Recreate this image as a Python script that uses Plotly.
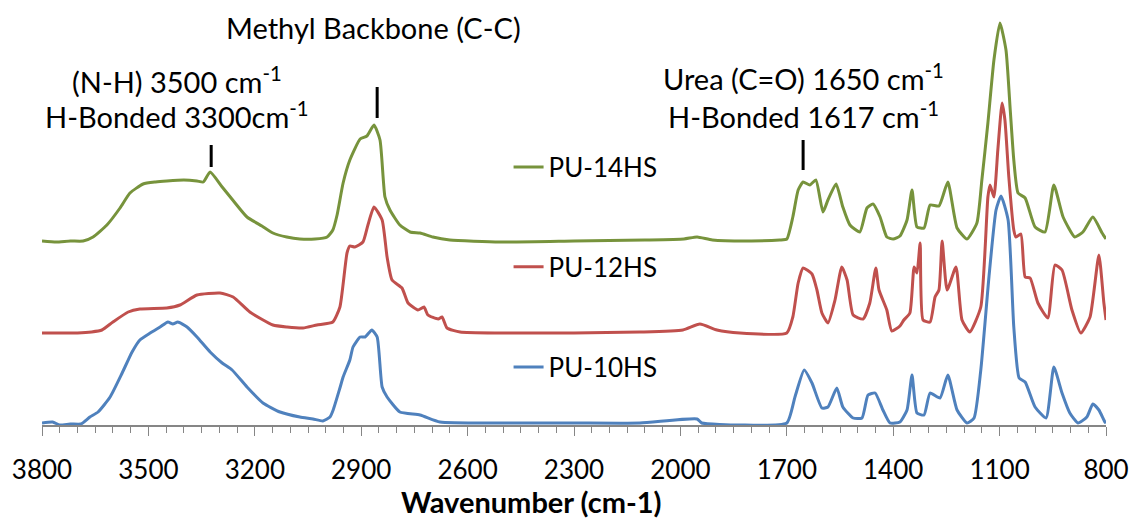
import plotly.graph_objects as go

# Wavenumber (cm-1) and offset absorbance (a.u.)
pu14_wn = [3800, 3760, 3720, 3684, 3656, 3617, 3580, 3552, 3515, 3480, 3448, 3400, 3363, 3345, 3326, 3292,
           3260, 3222, 3180, 3149, 3110, 3073, 3030, 2996, 2980, 2968, 2951, 2932, 2903, 2884, 2864, 2847,
           2833, 2819, 2791, 2762, 2734, 2698, 2650, 2509, 2300, 2100, 1990, 1953, 1910, 1800, 1720, 1700,
           1683, 1668, 1654, 1635, 1618, 1598, 1584, 1561, 1542, 1522, 1494, 1474, 1457, 1437, 1418, 1400,
           1381, 1361, 1347, 1333, 1313, 1296, 1271, 1246, 1220, 1192, 1164, 1150, 1133, 1116, 1099, 1082,
           1070, 1060, 1048, 1028, 1000, 972, 947, 921, 888, 865, 837, 811, 800]
pu14_ab = [1.84, 1.83, 1.84, 1.84, 1.88, 2.00, 2.17, 2.32, 2.41, 2.43, 2.44, 2.45, 2.44, 2.43, 2.53, 2.38,
           2.24, 2.08, 1.99, 1.92, 1.88, 1.86, 1.86, 1.88, 1.95, 2.10, 2.42, 2.65, 2.86, 2.89, 3.00, 2.85,
           2.28, 2.15, 2.00, 1.93, 1.92, 1.88, 1.85, 1.83, 1.84, 1.85, 1.86, 1.88, 1.85, 1.84, 1.85, 1.86,
           2.08, 2.35, 2.43, 2.40, 2.45, 2.13, 2.25, 2.41, 2.18, 2.00, 1.93, 2.17, 2.21, 2.08, 1.88, 1.86,
           1.89, 2.05, 2.35, 1.98, 1.97, 2.20, 2.19, 2.43, 1.97, 1.86, 2.02, 2.45, 3.02, 3.65, 4.02, 3.75,
           3.15, 2.65, 2.32, 2.27, 1.98, 1.93, 2.40, 2.08, 1.88, 1.93, 2.08, 1.92, 1.86]

pu12_wn = [3800, 3700, 3660, 3631, 3600, 3557, 3524, 3448, 3411, 3363, 3298, 3261, 3214, 3149, 3109, 3064,
           3025, 2980, 2960, 2940, 2932, 2918, 2895, 2881, 2864, 2841, 2827, 2813, 2785, 2768, 2740, 2723,
           2712, 2683, 2672, 2658, 2621, 2509, 2300, 2114, 1993, 1945, 1897, 1832, 1700, 1683, 1668, 1654,
           1629, 1615, 1601, 1584, 1564, 1545, 1530, 1513, 1485, 1466, 1449, 1440, 1418, 1404, 1381, 1370,
           1353, 1341, 1333, 1324, 1316, 1296, 1282, 1271, 1262, 1248, 1223, 1206, 1184, 1153, 1133, 1127,
           1116, 1105, 1093, 1085, 1074, 1060, 1054, 1040, 1028, 1014, 992, 964, 944, 924, 896, 871,
           845, 820, 806, 800]
pu12_ab = [0.92, 0.92, 0.93, 0.95, 1.03, 1.13, 1.16, 1.17, 1.20, 1.30, 1.32, 1.28, 1.13, 1.00, 0.98, 0.97,
           1.00, 1.03, 1.18, 1.72, 1.79, 1.78, 1.83, 2.00, 2.18, 2.05, 1.68, 1.45, 1.37, 1.22, 1.15, 1.18,
           1.10, 1.06, 1.08, 0.97, 0.93, 0.92, 0.92, 0.93, 0.95, 1.01, 0.95, 0.92, 0.92, 1.08, 1.42, 1.57,
           1.51, 1.35, 1.12, 1.02, 1.25, 1.58, 1.45, 1.10, 1.06, 1.22, 1.57, 1.35, 1.15, 0.94, 0.99, 1.05,
           1.12, 1.58, 1.52, 1.82, 1.05, 1.03, 1.28, 1.35, 1.84, 1.35, 1.58, 1.05, 0.93, 1.18, 2.28, 2.40,
           2.28, 2.75, 3.22, 3.05, 2.48, 1.95, 1.88, 1.91, 1.48, 1.47, 1.22, 1.07, 1.60, 1.55, 1.15, 0.92,
           1.08, 1.70, 1.22, 1.05]

pu10_wn = [3800, 3770, 3750, 3720, 3690, 3665, 3642, 3608, 3574, 3546, 3524, 3495, 3467, 3445, 3431, 3417,
           3391, 3363, 3326, 3292, 3264, 3222, 3177, 3129, 3073, 3036, 3008, 2988, 2979, 2960, 2951, 2932,
           2923, 2903, 2889, 2870, 2855, 2841, 2827, 2791, 2734, 2678, 2509, 2300, 2114, 1953, 1940, 1832,
           1700, 1677, 1651, 1629, 1601, 1584, 1559, 1542, 1513, 1488, 1471, 1451, 1429, 1409, 1381, 1361,
           1347, 1333, 1313, 1296, 1268, 1246, 1220, 1192, 1172, 1153, 1130, 1110, 1096, 1076, 1060, 1045,
           1028, 1000, 969, 947, 924, 902, 879, 854, 837, 820, 803, 800]
pu10_ab = [0.02, 0.03, 0.00, 0.01, 0.01, 0.08, 0.13, 0.28, 0.52, 0.73, 0.85, 0.92, 0.98, 1.03, 1.01, 1.03,
           0.98, 0.88, 0.73, 0.62, 0.55, 0.38, 0.22, 0.13, 0.08, 0.06, 0.04, 0.08, 0.15, 0.37, 0.48, 0.65,
           0.78, 0.88, 0.88, 0.95, 0.88, 0.38, 0.28, 0.13, 0.10, 0.03, 0.02, 0.02, 0.02, 0.06, 0.02, 0.00,
           0.02, 0.28, 0.55, 0.42, 0.17, 0.18, 0.37, 0.18, 0.07, 0.07, 0.30, 0.32, 0.15, 0.02, 0.03, 0.15,
           0.50, 0.12, 0.10, 0.32, 0.27, 0.50, 0.15, 0.02, 0.07, 0.55, 1.48, 2.15, 2.29, 2.05, 0.98, 0.47,
           0.43, 0.18, 0.07, 0.58, 0.32, 0.12, 0.02, 0.08, 0.21, 0.15, 0.03, 0.02]

tick_vals = [3800, 3500, 3200, 2900, 2600, 2300, 2000, 1700, 1400, 1100, 800]

FONT = "Lato"
GREEN, RED, BLUE = "#77933C", "#C0504D", "#4F81BD"

fig = go.Figure()
fig.add_trace(go.Scatter(x=pu14_wn, y=pu14_ab, mode="lines", name="PU-14HS",
                         line=dict(color=GREEN, width=3, shape="spline", smoothing=0.5), legend="legend"))
fig.add_trace(go.Scatter(x=pu12_wn, y=pu12_ab, mode="lines", name="PU-12HS",
                         line=dict(color=RED, width=3, shape="spline", smoothing=0.5), legend="legend2"))
fig.add_trace(go.Scatter(x=pu10_wn, y=pu10_ab, mode="lines", name="PU-10HS",
                         line=dict(color=BLUE, width=3, shape="spline", smoothing=0.5), legend="legend3"))

# Peak marker bars
markers = [(3323, 2.58, 2.80), (2855, 3.07, 3.38), (1654, 2.55, 2.85)]
for xm, y0, y1 in markers:
    fig.add_shape(type="line", xref="x", yref="y", x0=xm, x1=xm, y0=y0, y1=y1,
                  line=dict(color="black", width=3))

ann_font = dict(family=FONT, size=29, color="black")
annotations = [
    dict(x=2864, y=3.98, text="Methyl Backbone (C-C)"),
    dict(x=3418, y=3.45, text="(N-H) 3500 cm<sup>-1</sup>"),
    dict(x=3418, y=3.10, text="H-Bonded 3300cm<sup>-1</sup>"),
    dict(x=1654, y=3.48, text="Urea (C=O) 1650 cm<sup>-1</sup>"),
    dict(x=1654, y=3.10, text="H-Bonded 1617 cm<sup>-1</sup>"),
]
for a in annotations:
    fig.add_annotation(xref="x", yref="y", showarrow=False, xanchor="center", yanchor="middle",
                       font=ann_font, **a)

# Axis title (offset left of plot centre, as in the reference)
fig.add_annotation(xref="paper", yref="paper", x=0.4596, y=-0.181, showarrow=False,
                   xanchor="center", yanchor="middle", text="<b>Wavenumber (cm-1)</b>",
                   font=dict(family=FONT, size=29, color="black"))

leg_common = dict(font=dict(family=FONT, size=26, color="black"), bgcolor="rgba(0,0,0,0)",
                  xanchor="left", yanchor="middle", borderwidth=0)
fig.update_layout(
    width=1131, height=518,
    margin=dict(l=42, r=25, t=0, b=93, autoexpand=False),
    paper_bgcolor="white", plot_bgcolor="white",
    font=dict(family=FONT, size=26, color="black"),
    showlegend=True,
    legend=dict(x=0.4385, y=0.607, **leg_common),
    legend2=dict(x=0.4385, y=0.372, **leg_common),
    legend3=dict(x=0.4385, y=0.136, **leg_common),
    xaxis=dict(range=[3800, 800], tickmode="array", tickvals=tick_vals,
               ticktext=[str(v) for v in tick_vals],
               ticks="outside", ticklen=9, tickwidth=1, tickcolor="#868686",
               showline=True, linecolor="#868686", linewidth=1.5,
               showgrid=False, zeroline=False,
               minor=dict(tickmode="linear", tick0=800, dtick=50, ticks="outside", ticklen=6,
                          tickwidth=1, tickcolor="#868686", showgrid=False),
               tickfont=dict(family=FONT, size=26, color="black"),
               ticklabelstandoff=12),
    yaxis=dict(range=[0, 4.25], visible=False),
)

fig.write_html("out.html")
